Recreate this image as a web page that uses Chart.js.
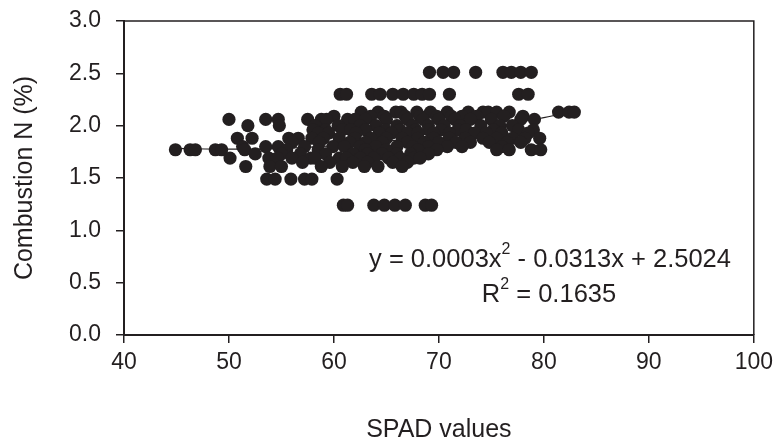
<!DOCTYPE html>
<html>
<head>
<meta charset="utf-8">
<script src="https://cdn.jsdelivr.net/npm/chart.js@4.4.0/dist/chart.umd.min.js"></script>
<style>
  html, body { margin: 0; padding: 0; background: #fff; }
  #wrap { width: 779px; height: 448px; }
</style>
</head>
<body>
<div id="wrap"><canvas id="chart" width="779" height="448"></canvas></div>
<script>
// SPAD reading (x) and combustion N % (y), one entry per sample, grouped by N level
const spadValues = [
  69.1, 70.4, 71.4, 73.5, 76.1, 76.9, 77.8, 78.8,
  60.6, 61.2, 63.6, 64.4, 65.6, 66.6, 67.6, 68.4, 69.1, 71.0, 77.6, 78.5,
  62.6, 64.2, 65.9, 66.4, 67.9, 69.2, 70.8, 72.8, 74.2, 74.7, 75.5, 76.7, 81.4, 82.4, 82.9,
  60.0, 63.5, 64.8, 66.8, 68.2, 69.8, 71.2, 72.2, 73.6, 76.2, 78.0,
  50.0, 53.5, 54.7, 57.5, 58.8, 59.3, 61.3, 62.0, 63.0, 65.0, 67.0, 68.5, 70.0, 71.5, 73.0, 75.0, 77.8, 79.1,
  51.8, 54.8, 58.2, 60.4, 62.5, 64.0, 66.0, 67.5, 69.0, 70.5, 72.0, 74.0, 75.8, 77.0,
  58.0, 59.2, 60.8, 61.6, 63.0, 64.9, 66.3, 67.8, 69.0, 70.2, 71.8, 72.6, 75.2, 77.6, 79.0,
  58.5, 59.5, 62.1, 64.3, 65.5, 67.0, 68.0, 69.5, 71.0, 73.4, 74.5, 76.0, 78.5,
  50.8, 52.2, 55.7, 56.6, 57.9, 59.0, 60.5, 62.0, 63.5, 65.0, 66.5, 68.0, 69.5, 71.0, 72.5, 74.2, 75.5, 77.0, 78.2, 79.6,
  56.0, 58.6, 61.5, 63.0, 64.6, 67.0, 68.6, 70.0, 71.6, 73.0, 74.8, 76.5, 77.8,
  51.3, 53.5, 54.7, 57.2, 59.9, 61.0, 62.5, 64.0, 66.0, 67.5, 69.0, 70.8, 72.2, 76.0,
  44.9, 46.3, 46.8, 48.7, 49.3, 51.5, 55.5, 58.5, 63.0, 65.0, 68.0, 69.8, 75.5, 76.7, 78.8, 79.7,
  52.5, 55.0, 56.8, 59.2, 61.8, 63.2, 64.6, 66.0, 67.3, 69.0,
  50.1, 53.8, 54.6, 56.0, 57.8, 58.2, 60.5, 61.2, 62.5, 63.8, 65.2, 66.3, 67.6, 68.2,
  57.0, 59.6, 61.8, 63.2, 65.6, 67.0,
  51.6, 53.9, 55.0, 58.8, 60.8, 62.9, 64.2, 66.5,
  53.6, 54.4, 55.9, 57.2, 57.9, 60.3,
  60.9, 61.3, 63.8, 64.8, 65.8, 66.8, 68.7, 69.3
];
const nitrogenValues = [
  2.51, 2.51, 2.51, 2.51, 2.51, 2.51, 2.51, 2.51,
  2.30, 2.30, 2.30, 2.30, 2.30, 2.30, 2.30, 2.30, 2.30, 2.30, 2.30, 2.30,
  2.13, 2.13, 2.13, 2.13, 2.13, 2.13, 2.13, 2.13, 2.13, 2.13, 2.13, 2.13, 2.13, 2.13, 2.13,
  2.09, 2.09, 2.09, 2.09, 2.09, 2.09, 2.09, 2.09, 2.09, 2.09, 2.09,
  2.06, 2.06, 2.06, 2.06, 2.06, 2.06, 2.06, 2.06, 2.06, 2.06, 2.06, 2.06, 2.06, 2.06, 2.06, 2.06, 2.06, 2.06,
  2.00, 2.00, 2.00, 2.00, 2.00, 2.00, 2.00, 2.00, 2.00, 2.00, 2.00, 2.00, 2.00, 2.00,
  1.96, 1.96, 1.96, 1.96, 1.96, 1.96, 1.96, 1.96, 1.96, 1.96, 1.96, 1.96, 1.96, 1.96, 1.96,
  1.93, 1.93, 1.93, 1.93, 1.93, 1.93, 1.93, 1.93, 1.93, 1.93, 1.93, 1.93, 1.93,
  1.88, 1.88, 1.88, 1.88, 1.88, 1.88, 1.88, 1.88, 1.88, 1.88, 1.88, 1.88, 1.88, 1.88, 1.88, 1.88, 1.88, 1.88, 1.88, 1.88,
  1.84, 1.84, 1.84, 1.84, 1.84, 1.84, 1.84, 1.84, 1.84, 1.84, 1.84, 1.84, 1.84,
  1.80, 1.80, 1.80, 1.80, 1.80, 1.80, 1.80, 1.80, 1.80, 1.80, 1.80, 1.80, 1.80, 1.80,
  1.77, 1.77, 1.77, 1.77, 1.77, 1.77, 1.77, 1.77, 1.77, 1.77, 1.77, 1.77, 1.77, 1.77, 1.77, 1.77,
  1.73, 1.73, 1.73, 1.73, 1.73, 1.73, 1.73, 1.73, 1.73, 1.73,
  1.69, 1.69, 1.69, 1.69, 1.69, 1.69, 1.69, 1.69, 1.69, 1.69, 1.69, 1.69, 1.69, 1.69,
  1.65, 1.65, 1.65, 1.65, 1.65, 1.65,
  1.61, 1.61, 1.61, 1.61, 1.61, 1.61, 1.61, 1.61,
  1.49, 1.49, 1.49, 1.49, 1.49, 1.49,
  1.24, 1.24, 1.24, 1.24, 1.24, 1.24, 1.24, 1.24
];

// fitted curve
const trendX = [45, 50, 55, 60, 65, 70, 75, 80, 83];
const trendY = [1.783, 1.775, 1.783, 1.809, 1.85, 1.909, 1.985, 2.077, 2.14];

const xTicks = [40, 50, 60, 70, 80, 90, 100];
const yTicks = [0, 0.5, 1.0, 1.5, 2.0, 2.5, 3.0];

const ink = "#231f20";
const fontFamily = "'Liberation Sans', Arial, sans-serif";

// frame + equation text
const extras = {
  id: "extras",
  afterDraw(chart) {
    const { ctx, chartArea: a } = chart;
    ctx.save();
    ctx.strokeStyle = ink;
    ctx.lineWidth = 1.5;
    ctx.beginPath();
    ctx.moveTo(a.left, a.top);
    ctx.lineTo(a.right, a.top);
    ctx.lineTo(a.right, a.bottom);
    ctx.stroke();

    ctx.fillStyle = ink;
    ctx.textBaseline = "middle";
    ctx.textAlign = "left";
    const big = "25.5px " + fontFamily;
    const small = "16px " + fontFamily;
    function line(parts, cx, cy) {
      let w = 0;
      parts.forEach((p) => {
        ctx.font = p.sup ? small : big;
        w += ctx.measureText(p.t).width;
      });
      let x = cx - w / 2;
      parts.forEach((p) => {
        ctx.font = p.sup ? small : big;
        ctx.fillText(p.t, x, p.sup ? cy - 10 : cy);
        x += ctx.measureText(p.t).width;
      });
    }
    line([{ t: "y = 0.0003x" }, { t: "2", sup: true }, { t: " - 0.0313x + 2.5024" }], 550, 260);
    line([{ t: "R" }, { t: "2", sup: true }, { t: " = 0.1635" }], 549, 295);
    ctx.restore();
  },
};

const tickFont = { family: fontFamily, size: 23 };
const titleFont = { family: fontFamily, size: 25 };

new Chart(document.getElementById("chart"), {
  type: "scatter",
  data: {
    datasets: [
      {
        label: "Samples",
        data: spadValues.map((x, i) => ({ x: x, y: nitrogenValues[i] })),
        backgroundColor: ink,
        borderWidth: 0,
        pointRadius: 6.6,
        pointHoverRadius: 6.6,
        order: 1,
      },
      {
        type: "line",
        label: "Fit",
        data: trendX.map((x, i) => ({ x: x, y: trendY[i] })),
        borderColor: ink,
        borderWidth: 1.2,
        pointRadius: 0,
        tension: 0.4,
        fill: false,
        order: 2,
      },
    ],
  },
  options: {
    responsive: false,
    animation: false,
    layout: { padding: { top: 21, right: 19, left: 0, bottom: 0 } },
    plugins: { legend: { display: false }, tooltip: { enabled: false } },
    scales: {
      x: {
        type: "linear",
        min: 40,
        max: 100,
        afterBuildTicks: (s) => { s.ticks = xTicks.map((v) => ({ value: v })); },
        afterFit: (s) => { s.height = 113; },
        grid: { drawOnChartArea: false, tickLength: 8, color: ink, lineWidth: 1.5 },
        border: { color: ink, width: 2 },
        ticks: { color: ink, font: tickFont, padding: 6, maxRotation: 0 },
        title: { display: true, text: "SPAD values", color: ink, font: titleFont, padding: { top: 0, bottom: 3 } },
      },
      y: {
        type: "linear",
        min: 0,
        max: 3,
        afterBuildTicks: (s) => { s.ticks = yTicks.map((v) => ({ value: v })); },
        afterFit: (s) => {
          s.width = 124;
          s.paddingTop = 0;
          s.paddingBottom = 0;
        },
        grid: { drawOnChartArea: false, tickLength: 8, color: ink, lineWidth: 1.5 },
        border: { color: ink, width: 2 },
        ticks: { color: ink, font: tickFont, padding: 15, callback: (v) => v.toFixed(1) },
        title: { display: true, text: "Combustion N (%)", color: ink, font: titleFont, padding: { top: 10, bottom: 0 } },
      },
    },
  },
  plugins: [extras],
});
</script>
</body>
</html>
